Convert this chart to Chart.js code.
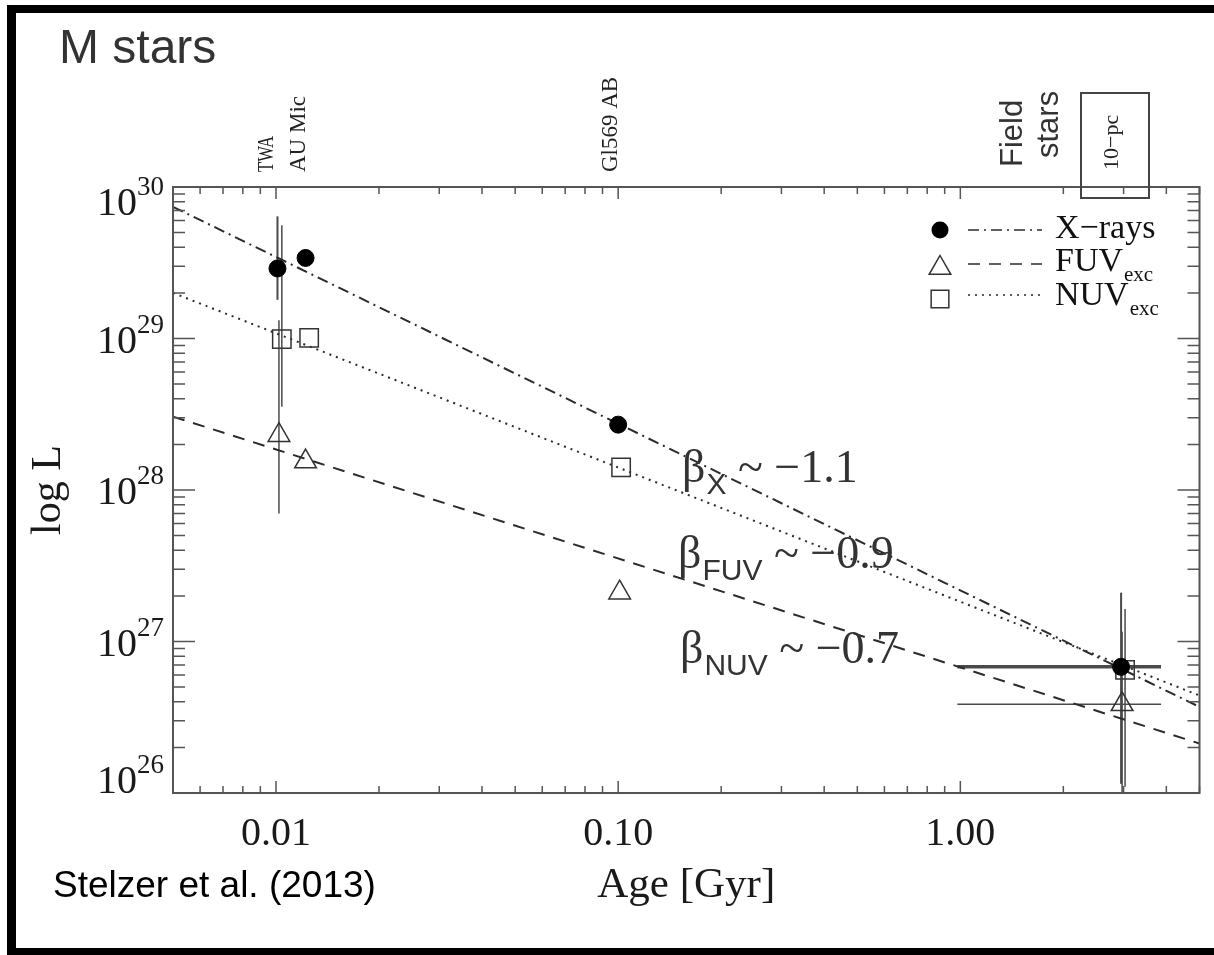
<!DOCTYPE html>
<html>
<head>
<meta charset="utf-8">
<title>M stars</title>
<script src="https://cdn.jsdelivr.net/npm/chart.js@4.4.1/dist/chart.umd.min.js"></script>
<style>
  html, body { margin: 0; padding: 0; background: #fff; }
  #wrap { position: relative; width: 1214px; height: 955px; }
</style>
</head>
<body>
<div id="wrap"><canvas id="starsChart" width="1214" height="955"></canvas></div>
<script>
// ---- data (age in Gyr, luminosity in erg/s) ----
const xrayAge   = [0.0101, 0.0122, 0.100, 2.95];
const xrayLum   = [2.9e29, 3.4e29, 2.7e28, 6.8e26];
const xrayErrLo = [1.8e29, null, null, 1.15e26];
const xrayErrHi = [6.4e29, null, null, 2.1e27];
const xrayAgeLo = [null, null, null, 0.98];
const xrayAgeHi = [null, null, null, 3.86];

const fuvAge   = [0.0102, 0.0122, 0.101, 2.97];
const fuvLum   = [2.3e28, 1.54e28, 2.1e27, 3.85e26];
const fuvErrLo = [7.0e27, null, null, 1.0e26];
const fuvErrHi = [1.32e29, null, null, 1.16e27];
const fuvAgeLo = [null, null, null, 0.98];
const fuvAgeHi = [null, null, null, 3.86];

const nuvAge   = [0.0104, 0.0125, 0.102, 3.03];
const nuvLum   = [9.9e28, 1.01e29, 1.41e28, 6.5e26];
const nuvErrLo = [3.55e28, null, null, 1.1e26];
const nuvErrHi = [5.6e29, null, null, 1.64e27];

// power-law fits, read at both ends of the age axis
const fitAge  = [0.005, 5];
const xrayFit = [7.4e29, 3.7e26];
const fuvFit  = [3.05e28, 2.12e26];
const nuvFit  = [2.0e29, 4.4e26];

const ageTicks      = [0.01, 0.1, 1];
const ageTickLabels = ["0.01", "0.10", "1.00"];
const lumTicks      = [1e26, 1e27, 1e28, 1e29, 1e30];
const lumTickExp    = ["26", "27", "28", "29", "30"];

const seriesNames = ["X\u2212rays", "FUV", "NUV"];
const seriesSubs  = ["", "exc", "exc"];
const slopeNames  = ["X", "FUV", "NUV"];
const slopeValues = ["\u22121.1", "\u22120.9", "\u22120.7"];

const objectNames = ["TWA", "AU Mic", "Gl569 AB"];
const objectAges  = [0.0098, 0.0122, 0.1];

// ---- styles ----
const serif = '"Liberation Serif", "Times New Roman", serif';
const sans  = '"Liberation Sans", Arial, sans-serif';
const ink   = "#2b2b2b";
const axisInk = "#555";
const dashX   = [11, 5, 2, 5];
const dashFUV = [12, 9];
const dashNUV = [2, 5];

function pts(xs, ys) {
    return xs.map((x, i) => ({ x: x, y: ys[i] }));
}

function logValues(min, max) {
    const out = [];
    for (let e = Math.floor(Math.log10(min)); e <= Math.ceil(Math.log10(max)); e++) {
        for (let m = 1; m < 10; m++) {
            const v = m * Math.pow(10, e);
            if (v >= min * 0.999 && v <= max * 1.001) out.push({ v: v, major: m === 1 });
        }
    }
    return out;
}

function errorBars(c, xs, ys, age, lum, lo, hi, ageLo, ageHi, vw, hw) {
    age.forEach((a, i) => {
        const px = xs.getPixelForValue(a);
        const py = ys.getPixelForValue(lum[i]);
        if (lo && lo[i] !== null) {
            c.lineWidth = vw;
            c.beginPath();
            c.moveTo(px, ys.getPixelForValue(lo[i]));
            c.lineTo(px, ys.getPixelForValue(hi[i]));
            c.stroke();
        }
        if (ageLo && ageLo[i] !== null) {
            c.lineWidth = hw;
            c.beginPath();
            c.moveTo(xs.getPixelForValue(ageLo[i]), py);
            c.lineTo(xs.getPixelForValue(ageHi[i]), py);
            c.stroke();
        }
    });
}

function rotText(c, text, x, y, font, maxW) {
    c.save();
    c.translate(x, y);
    c.rotate(-Math.PI / 2);
    c.font = font;
    c.textAlign = "left";
    c.textBaseline = "alphabetic";
    if (maxW) c.fillText(text, 0, 0, maxW); else c.fillText(text, 0, 0);
    c.restore();
}

function marker(c, style, x, y, r) {
    c.beginPath();
    if (style === "circle") {
        c.arc(x, y, r, 0, Math.PI * 2);
        c.fillStyle = "#000";
        c.fill();
        return;
    }
    if (style === "triangle") {
        c.moveTo(x, y - r);
        c.lineTo(x + 0.866 * r, y + 0.5 * r);
        c.lineTo(x - 0.866 * r, y + 0.5 * r);
        c.closePath();
    } else {
        const h = r * Math.SQRT1_2;
        c.rect(x - h, y - h, 2 * h, 2 * h);
    }
    c.lineWidth = 1.5;
    c.strokeStyle = "#333";
    c.stroke();
}

function slopeNote(c, x, base, sub, value) {
    c.fillStyle = "#333";
    c.textAlign = "left";
    c.font = "46px " + serif;
    c.fillText("\u03b2", x, base);
    let cx = x + c.measureText("\u03b2").width + 1;
    c.font = "30px " + sans;
    c.fillText(sub, cx, base + 12);
    cx += c.measureText(sub).width;
    c.font = "46px " + serif;
    c.fillText(" ~ " + value, cx, base);
}

const frame = {
    id: "frame",
    beforeDraw(chart) {
        const c = chart.ctx;
        c.save();
        c.fillStyle = "#fff";
        c.fillRect(0, 0, chart.width, chart.height);
        c.fillStyle = "#000";
        c.fillRect(7, 5, 9, 950);
        c.fillRect(7, 5, chart.width - 7, 8);
        c.fillRect(7, 948, chart.width - 7, 7);
        c.restore();
    },
    beforeDatasetsDraw(chart) {
        const c = chart.ctx, xs = chart.scales.x, ys = chart.scales.y;
        c.save();
        c.strokeStyle = "#4a4a4a";
        errorBars(c, xs, ys, xrayAge, xrayLum, xrayErrLo, xrayErrHi, xrayAgeLo, xrayAgeHi, 2, 3.5);
        errorBars(c, xs, ys, fuvAge, fuvLum, fuvErrLo, fuvErrHi, fuvAgeLo, fuvAgeHi, 1.5, 1.5);
        errorBars(c, xs, ys, nuvAge, nuvLum, nuvErrLo, nuvErrHi, null, null, 1.5, 1.5);
        c.restore();
    },
    afterDatasetsDraw(chart) {
        const c = chart.ctx, xs = chart.scales.x, ys = chart.scales.y;
        const a = chart.chartArea;
        c.save();

        // axis box and inward ticks
        c.strokeStyle = axisInk;
        c.lineWidth = 2;
        c.strokeRect(a.left, a.top, a.right - a.left, a.bottom - a.top);
        c.lineWidth = 1.5;
        c.beginPath();
        logValues(xs.min, xs.max).forEach(t => {
            const px = xs.getPixelForValue(t.v), len = t.major ? 12 : 7;
            c.moveTo(px, a.bottom); c.lineTo(px, a.bottom - len);
            c.moveTo(px, a.top); c.lineTo(px, a.top + len);
        });
        logValues(ys.min, ys.max).forEach(t => {
            const py = ys.getPixelForValue(t.v), len = t.major ? 22 : 12;
            c.moveTo(a.left, py); c.lineTo(a.left + len, py);
            c.moveTo(a.right, py); c.lineTo(a.right - len, py);
        });
        c.stroke();

        // tick labels
        c.fillStyle = "#1a1a1a";
        c.font = "40px " + serif;
        c.textAlign = "center";
        ageTicks.forEach((v, i) => {
            c.fillText(ageTickLabels[i], xs.getPixelForValue(v), 845);
        });
        lumTicks.forEach((v, i) => {
            const py = ys.getPixelForValue(v);
            const base = Math.min(Math.max(py + 14, a.top + 28), a.bottom);
            c.textAlign = "left";
            c.font = "40px " + serif;
            c.fillText("10", 97, base);
            c.font = "27px " + serif;
            c.fillText(lumTickExp[i], 137, base - 20);
        });

        // axis titles
        c.font = "43px " + serif;
        c.textAlign = "center";
        c.fillText("Age [Gyr]", (a.left + a.right) / 2, 897);
        c.save();
        c.translate(60, (a.top + a.bottom) / 2);
        c.rotate(-Math.PI / 2);
        c.font = "42px " + serif;
        c.fillText("log L", 0, 0);
        c.restore();

        // object names above the plot
        c.fillStyle = "#222";
        objectNames.forEach((n, i) => {
            const px = xs.getPixelForValue(objectAges[i]) + (i === 2 ? -1 : 0);
            rotText(c, n, px + (i === 1 ? -1 : 0), 172, "23px " + serif, i === 0 ? 36 : null);
        });
        c.fillStyle = "#333";
        rotText(c, "Field", 1022, 167, "31px " + sans);
        rotText(c, "stars", 1058, 158, "31px " + sans);
        c.fillStyle = "#222";
        rotText(c, "10\u2212pc", 1118, 170, "22px " + serif);
        c.strokeStyle = "#444";
        c.lineWidth = 2;
        c.strokeRect(1081, 93, 68, 105);

        // legend
        const rowY = [230, 264, 295];
        const markY = [230, 268, 299];
        const styles = ["circle", "triangle", "rect"];
        const dashes = [dashX, dashFUV, dashNUV];
        const base = [238, 271, 305];
        for (let i = 0; i < 3; i++) {
            marker(c, styles[i], 940, markY[i], i === 0 ? 8.5 : 12.5);
            c.strokeStyle = ink;
            c.lineWidth = 1.5;
            c.setLineDash(dashes[i]);
            c.beginPath();
            c.moveTo(968, rowY[i]);
            c.lineTo(1042, rowY[i]);
            c.stroke();
            c.setLineDash([]);
            c.fillStyle = "#111";
            c.textAlign = "left";
            c.font = "34px " + serif;
            c.fillText(seriesNames[i], 1055, base[i]);
            const w = c.measureText(seriesNames[i]).width;
            c.font = "21px " + serif;
            c.fillText(seriesSubs[i], 1055 + w + 1, base[i] + 10);
        }

        // slope notes
        slopeNote(c, 682, 482, slopeNames[0], slopeValues[0]);
        slopeNote(c, 678, 568, slopeNames[1], slopeValues[1]);
        slopeNote(c, 680, 663, slopeNames[2], slopeValues[2]);

        // title and reference
        c.fillStyle = "#333";
        c.font = "48px " + sans;
        c.textAlign = "left";
        c.fillText("M stars", 59, 63);
        c.fillStyle = "#000";
        c.font = "37px " + sans;
        c.fillText("Stelzer et al. (2013)", 53, 897);

        c.restore();
    }
};

const ctx = document.getElementById("starsChart").getContext("2d");

new Chart(ctx, {
    type: "scatter",
    data: {
        datasets: [
            {
                label: seriesNames[0],
                data: pts(xrayAge, xrayLum),
                pointStyle: "circle",
                pointRadius: 8.5,
                backgroundColor: "#000",
                borderColor: "#000",
                borderWidth: 1
            },
            {
                label: seriesNames[1],
                data: pts(fuvAge, fuvLum),
                pointStyle: "triangle",
                pointRadius: 12.5,
                backgroundColor: "rgba(0,0,0,0)",
                borderColor: "#333",
                borderWidth: 1.5
            },
            {
                label: seriesNames[2],
                data: pts(nuvAge, nuvLum),
                pointStyle: "rect",
                pointRadius: 13,
                backgroundColor: "rgba(0,0,0,0)",
                borderColor: "#333",
                borderWidth: 1.5
            },
            {
                type: "line",
                label: "X fit",
                data: pts(fitAge, xrayFit),
                borderColor: ink,
                borderWidth: 2,
                borderDash: dashX,
                pointRadius: 0,
                fill: false
            },
            {
                type: "line",
                label: "FUV fit",
                data: pts(fitAge, fuvFit),
                borderColor: ink,
                borderWidth: 2,
                borderDash: dashFUV,
                pointRadius: 0,
                fill: false
            },
            {
                type: "line",
                label: "NUV fit",
                data: pts(fitAge, nuvFit),
                borderColor: ink,
                borderWidth: 2,
                borderDash: dashNUV,
                pointRadius: 0,
                fill: false
            }
        ]
    },
    options: {
        responsive: false,
        animation: false,
        devicePixelRatio: 1,
        layout: {
            padding: { left: 173, right: 14, top: 187, bottom: 162 }
        },
        plugins: {
            legend: { display: false },
            tooltip: { enabled: false }
        },
        scales: {
            x: { type: "logarithmic", min: 0.005, max: 5, display: false },
            y: { type: "logarithmic", min: 1e26, max: 1e30, display: false }
        }
    },
    plugins: [frame]
});
</script>
</body>
</html>
